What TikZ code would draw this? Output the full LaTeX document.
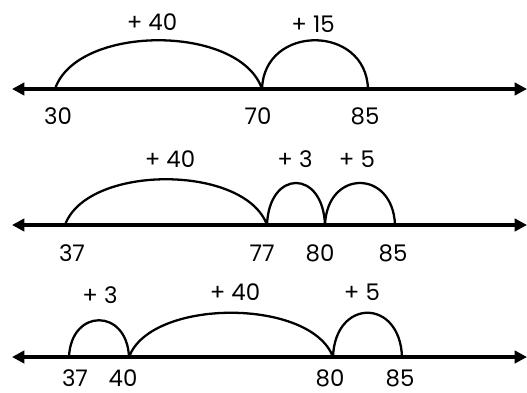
\documentclass[tikz,border=0pt]{standalone}
\usepackage{fontspec}
\setmainfont{Poppins}
\usetikzlibrary{arrows.meta, calc}

\begin{document}
\begin{tikzpicture}[x=0.02cm, y=-0.02cm,
  numline/.style={{Triangle[length=7pt,width=7pt]}-{Triangle[length=7pt,width=7pt]}, line width=2.3pt},
  hop/.style args={#1/#2}{line width=1.3pt, to path={.. controls ($(\tikztostart)+(#1,-#2)$) and ($(\tikztotarget)+(-#1,-#2)$) .. (\tikztotarget)}},
  num/.style={font=\fontsize{13}{15}\selectfont, inner sep=1pt},
  jump/.style={font=\fontsize{13}{15}\selectfont, inner sep=1pt},
]
  \useasboundingbox (0,0) rectangle (527,392);

  % first line: 30 -> 70 -> 85
  \coordinate (l1) at (12,89);   \coordinate (r1) at (527,89);
  \coordinate (p30) at (55,89);  \coordinate (p70) at (262,89);
  \coordinate (p85) at (368,89);
  \draw[numline] (l1) -- (r1);
  \draw[hop=22/65] (p30) to (p70);
  \draw[hop=2/65]  (p70) to (p85);
  \node[jump] (j1a) at (152,22) {+ 40};
  \node[jump] (j1b) at (313,24) {+ 15};
  \node[num] (n30) at (58,116)  {30};
  \node[num] (n70) at (258,116) {70};
  \node[num] (n85) at (365,116) {85};

  % second line: 37 -> 77 -> 80 -> 85
  \coordinate (l2) at (12,225);  \coordinate (r2) at (527,225);
  \coordinate (q37) at (65,225); \coordinate (q77) at (267,225);
  \coordinate (q80) at (325,225); \coordinate (q85) at (395,225);
  \draw[numline] (l2) -- (r2);
  \draw[hop=22/61] (q37) to (q77);
  \draw[hop=2/56]  (q77) to (q80);
  \draw[hop=2/56]  (q80) to (q85);
  \node[jump] (j2a) at (170,159) {+ 40};
  \node[jump] (j2b) at (295,159) {+ 3};
  \node[jump] (j2c) at (357,159) {+ 5};
  \node[num] (m37) at (72,253)  {37};
  \node[num] (m77) at (262,253) {77};
  \node[num] (m80) at (320,253) {80};
  \node[num] (m85) at (393,253) {85};

  % third line: 37 -> 40 -> 80 -> 85
  \coordinate (l3) at (12,357);  \coordinate (r3) at (527,357);
  \coordinate (s37) at (69,357); \coordinate (s40) at (129,357);
  \coordinate (s80) at (333,357); \coordinate (s85) at (402,357);
  \draw[numline] (l3) -- (r3);
  \draw[hop=2/49]  (s37) to (s40);
  \draw[hop=22/59] (s40) to (s80);
  \draw[hop=2/59]  (s80) to (s85);
  \node[jump] (j3a) at (100,295) {+ 3};
  \node[jump] (j3b) at (235,292) {+ 40};
  \node[jump] (j3c) at (362,292) {+ 5};
  \node[num] (k37) at (75,378)  {37};
  \node[num] (k40) at (123,378) {40};
  \node[num] (k80) at (330,378) {80};
  \node[num] (k85) at (400,378) {85};
\end{tikzpicture}
\end{document}
